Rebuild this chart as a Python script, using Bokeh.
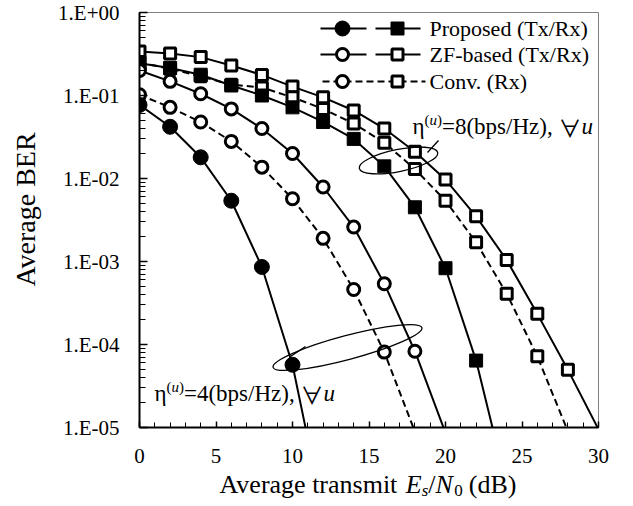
import numpy as np
from bokeh.plotting import figure
from bokeh.layouts import column
from bokeh.models import Range1d, LogTicker, SingleIntervalTicker, CustomJSTickFormatter, Label
from bokeh.core.properties import value
from bokeh.embed import file_html
from bokeh.resources import INLINE

# ---------------- data ----------------
snr_prop4 = [0, 2, 4, 6, 8, 10, 12]
ber_prop4 = [0.077, 0.042, 0.018, 0.0054, 0.00086, 5.7e-5, 9.5e-7]

snr_zf4 = [0, 2, 4, 6, 8, 10, 12, 14, 16, 18, 20]
ber_zf4 = [0.20, 0.148, 0.105, 0.069, 0.040, 0.020, 0.0079, 0.0026, 0.00054, 8.3e-5, 8.6e-6]

snr_conv4 = [0, 2, 4, 6, 8, 10, 12, 14, 16, 18]
ber_conv4 = [0.102, 0.072, 0.048, 0.028, 0.0137, 0.0057, 0.0019, 0.00046, 8.1e-5, 8.9e-6]

snr_prop8 = [0, 2, 4, 6, 8, 10, 12, 14, 16, 18, 20, 22, 24]
ber_prop8 = [0.245, 0.215, 0.178, 0.132, 0.10, 0.072, 0.048, 0.030, 0.014, 0.0045, 0.00083, 6.4e-5, 2e-6]

snr_zf8 = [0, 2, 4, 6, 8, 10, 12, 14, 16, 18, 20, 22, 24, 26, 28, 30]
ber_zf8 = [0.34, 0.32, 0.29, 0.23, 0.177, 0.128, 0.095, 0.066, 0.040, 0.021, 0.0097, 0.0035,
           0.00104, 0.000234, 4.95e-5, 9.5e-6]

snr_conv8 = [0, 2, 4, 6, 8, 10, 12, 14, 16, 18, 20, 22, 24, 26, 28]
ber_conv8 = [0.25, 0.21, 0.17, 0.135, 0.125, 0.095, 0.069, 0.046, 0.027, 0.013, 0.0054, 0.0017,
             0.00041, 7.2e-5, 9e-6]

legend_labels = ["Proposed (Tx/Rx)", "ZF-based (Tx/Rx)", "Conv. (Rx)"]
x_ticks_interval = 5
X_MIN, X_MAX = 0, 30
Y_MIN, Y_MAX = 1e-5, 1.0

FONT = "Liberation Serif"
SYM_FONT = "Noto Sans CJK JP"

# ---------------- layout geometry (picture pixels) ----------------
TOTAL_W, TOTAL_H = 617, 500
FL, FR, FT, FB = 139, 598, 12, 427   # plot frame
FW, FH = FR - FL, FB - FT
T_H = 40                             # height of x-title strip (overlaps main figure bottom)


def px2data(X, Y):
    x = X_MIN + (X - FL) / FW * (X_MAX - X_MIN)
    dec = np.log10(Y_MAX) - (Y - FT) / FH * (np.log10(Y_MAX) - np.log10(Y_MIN))
    return x, 10 ** dec


p = figure(frame_width=FW, frame_height=FH,
           min_border_left=FL, min_border_right=TOTAL_W - FR,
           min_border_top=FT, min_border_bottom=TOTAL_H - FB,
           y_axis_type="log", x_range=Range1d(X_MIN, X_MAX), y_range=Range1d(Y_MIN, Y_MAX),
           output_backend="svg", toolbar_location=None)
p.background_fill_color = "white"
p.border_fill_color = "white"
p.outline_line_color = "#808080"
p.outline_line_width = 1
p.xgrid.visible = False
p.ygrid.visible = False

for ax in (p.xaxis[0], p.yaxis[0]):
    ax.axis_line_color = "black"
    ax.axis_line_width = 2
    ax.major_tick_line_color = "black"
    ax.minor_tick_line_color = "black"
    ax.major_tick_line_width = 1.5
    ax.minor_tick_line_width = 1
    ax.major_tick_out = 0
    ax.minor_tick_out = 0
    ax.major_label_text_font = FONT
    ax.major_label_text_font_size = "21px"
    ax.major_label_text_color = "black"

p.xaxis.ticker = SingleIntervalTicker(interval=x_ticks_interval, num_minor_ticks=5)
p.xaxis.major_tick_in = 6
p.xaxis.minor_tick_in = 5
p.xaxis.major_label_standoff = 21

p.yaxis.ticker = LogTicker(desired_num_ticks=6, num_minor_ticks=10)
p.yaxis.major_tick_in = 8
p.yaxis.minor_tick_in = 6
p.yaxis.major_label_standoff = 20
p.yaxis.formatter = CustomJSTickFormatter(code="""
const e = Math.round(Math.log10(tick));
const s = e < 0 ? "-" : "+";
const a = Math.abs(e);
return "1.E" + s + (a < 10 ? "0" + a : "" + a);
""")
p.yaxis.axis_label = "\u00a0" * 3 + "Average BER"
p.yaxis.axis_label_text_font = FONT
p.yaxis.axis_label_text_font_size = "28px"
p.yaxis.axis_label_text_font_style = "normal"
p.yaxis.axis_label_text_color = "black"
p.yaxis.axis_label_standoff = 14

LW = 2
DASH = "7 4"


def draw_marker(xs, ys, kind):
    if kind == "fcircle":
        p.scatter(xs, ys, marker="circle", size=15, fill_color="black", line_color="black", line_width=1)
    elif kind == "ocircle":
        p.scatter(xs, ys, marker="circle", size=12, fill_color="white", line_color="black", line_width=3)
    elif kind == "fsquare":
        p.scatter(xs, ys, marker="square", size=13, fill_color="black", line_color="black", line_width=1)
    else:
        p.scatter(xs, ys, marker="square", size=11, fill_color="white", line_color="black", line_width=3)


def series(xs, ys, kind, dash=None):
    xs = np.asarray(xs, float)
    ys = np.asarray(ys, float)
    p.line(xs, ys, line_color="black", line_width=LW, line_dash=dash if dash else "solid")
    m = ys >= Y_MIN
    draw_marker(xs[m], ys[m], kind)


series(snr_zf8, ber_zf8, "osquare")
series(snr_conv8, ber_conv8, "osquare", DASH)
series(snr_prop8, ber_prop8, "fsquare")
series(snr_zf4, ber_zf4, "ocircle")
series(snr_conv4, ber_conv4, "ocircle", DASH)
series(snr_prop4, ber_prop4, "fcircle")

# ---------------- legend (manual) ----------------
rows_Y = [28, 54, 81]
circ_X, sq_X = 342, 397
kinds = [("fcircle", "fsquare", None), ("ocircle", "osquare", None), ("ocircle", "osquare", DASH)]
for (kc, ks, dash), Y in zip(kinds, rows_Y):
    if dash is None:
        for a, b in ((320, 366), (375, 420)):
            xa, ya = px2data(a, Y)
            xb, yb = px2data(b, Y)
            p.line([xa, xb], [ya, yb], line_color="black", line_width=LW)
    else:
        xa, ya = px2data(322, Y)
        xb, yb = px2data(425, Y)
        p.line([xa, xb], [ya, yb], line_color="black", line_width=LW, line_dash=DASH)
    for k, X in ((kc, circ_X), (ks, sq_X)):
        xx, yy = px2data(X, Y)
        draw_marker([xx], [yy], k)

for lab, Y in zip(legend_labels, rows_Y):
    p.add_layout(Label(x=429 - FL, y=FB - Y, x_units="screen", y_units="screen", text=lab,
                       text_font=FONT, text_font_size="22px", text_baseline="middle",
                       text_align="left", text_color="black"))

# ---------------- rich text helper ----------------
W = {' ': 250, '(': 333, ')': 333, ',': 250, '-': 333, '.': 250, '/': 278, '=': 564,
     'A': 722, 'B': 667, 'E': 611, 'H': 722, 'N': 722, 'R': 667, 'T': 611,
     'a': 444, 'b': 500, 'd': 500, 'e': 444, 'g': 500, 'i': 278, 'm': 778, 'n': 500,
     'o': 500, 'p': 500, 'r': 333, 's': 389, 't': 278, 'u': 500, 'v': 500, 'x': 500, 'z': 444,
     'η': 520, '∀': 1000}


def tw(s, size):
    return sum(W.get(c, 500) for c in s) / 1000.0 * size


def rich(pieces, X0, Ymid):
    x = X0
    for text, size, style, dy, font in pieces:
        p.add_layout(Label(x=x - FL, y=FB - Ymid + dy, x_units="screen", y_units="screen",
                           text=text, text_font=font, text_font_size=f"{size}px",
                           text_font_style=style, text_baseline="middle",
                           text_align="left", text_color="black"))
        x += tw(text, size)


def eta_pieces(n):
    return [("η", 23, "normal", 0, FONT), ("(", 15, "normal", 7, FONT), ("u", 15, "italic", 7, FONT),
            (")", 15, "normal", 7, FONT), (f"={n}(bps/Hz), ", 23, "normal", 0, FONT),
            ("∀", 23, "normal", 0, SYM_FONT), ("u", 23, "italic", 0, FONT)]


rich(eta_pieces(8), 412, 126)
rich(eta_pieces(4), 154, 393)

# ---------------- grouping ellipses ----------------
ex, ey = px2data(398, 160)
p.ellipse(x=[ex], y=[ey], width=80, height=22, angle=0.2, width_units="screen", height_units="screen",
          fill_alpha=0, line_color="black", line_width=1.3)
tx0, ty0 = px2data(427, 152)
tx1, ty1 = px2data(438, 140)
p.line([tx0, tx1], [ty0, ty1], line_color="black", line_width=1.3)

ex, ey = px2data(347, 347)
p.ellipse(x=[ex], y=[ey], width=154, height=24, angle=0.26, width_units="screen", height_units="screen",
          fill_alpha=0, line_color="black", line_width=1.3)
tx0, ty0 = px2data(290, 356)
tx1, ty1 = px2data(305, 346)
p.line([tx0, tx1], [ty0, ty1], line_color="black", line_width=1.3)

# ---------------- x-axis title strip (mixed styles), overlapping the bottom border ----------------
t_top = TOTAL_H - T_H
t = figure(frame_width=FW, frame_height=T_H,
           min_border_left=FL, min_border_right=TOTAL_W - FR, min_border_top=0, min_border_bottom=0,
           x_range=Range1d(FL, FR), y_range=Range1d(T_H, 0),
           x_axis_type=None, y_axis_type=None,
           output_backend="svg", toolbar_location=None)
t.margin = (-T_H, 0, 0, 0)
t.outline_line_color = None
t.background_fill_alpha = 0
t.border_fill_alpha = 0
t.xgrid.visible = False
t.ygrid.visible = False

# (text, size, style, downward shift, extra gap before)
title_pieces = [("Average transmit ", 26, "normal", 0, 0), ("E", 26, "italic", 0, 0),
                ("s", 17, "italic", 6, 0), ("/", 26, "normal", 0, 0), ("N", 26, "italic", 0, 0),
                ("0", 17, "normal", 6, 0), (" (dB)", 26, "normal", 0, 6)]
xx = 219
mid = 484 - t_top
for text, size, style, dy, gap in title_pieces:
    xx += gap
    t.text(x=[xx], y=[mid + dy], text=[text], text_font=value(FONT), text_font_size=value(f"{size}px"),
           text_font_style=value(style), text_baseline="middle", text_align="left", text_color="black")
    xx += tw(text, size)

layout = column(p, t, spacing=0)
open("out.html", "w").write(file_html(layout, INLINE))
